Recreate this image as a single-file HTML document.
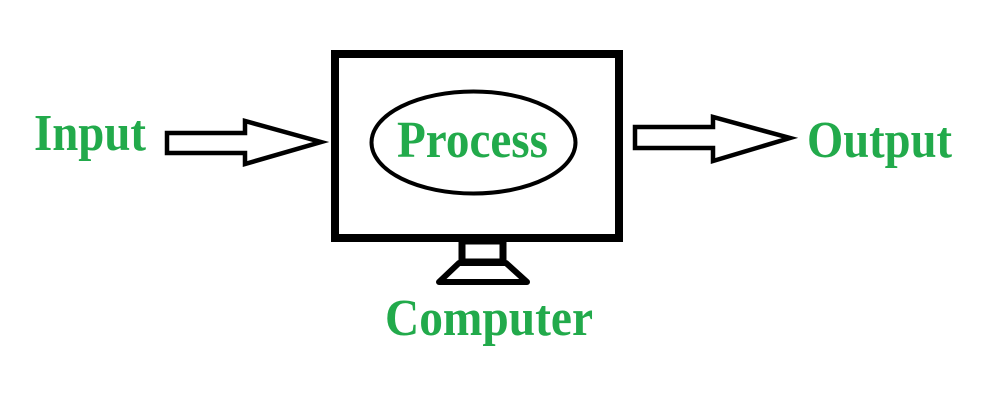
<!DOCTYPE html>
<html><head><style>html,body{margin:0;padding:0;background:#fff;width:1004px;height:406px;overflow:hidden}</style></head>
<body>
<svg width="1004" height="406" viewBox="0 0 1004 406" xmlns="http://www.w3.org/2000/svg">
<rect x="0" y="0" width="1004" height="406" fill="#fff"/>
<g fill="none" stroke="#000" stroke-linejoin="miter">
<rect x="335" y="54" width="284" height="184" stroke-width="8"/>
<ellipse cx="473.5" cy="142.5" rx="102" ry="51" stroke-width="4"/>
<rect x="462" y="241" width="41" height="21" stroke-width="7"/>
<polygon points="459,263 506,263 527,282 439,282" stroke-width="6" stroke-linejoin="round"/>
<polygon points="167,133 245,133 245,121 321,142 245,164 245,153 167,153" stroke-width="4.5"/>
<polygon points="635,127 713,127 713,117 790,138 713,161 713,148 635,148" stroke-width="4.5"/>
</g>
<g font-family="'Liberation Serif',serif" font-weight="bold" font-size="52" fill="#22aa4b">
<text x="34" y="150" textLength="112" lengthAdjust="spacingAndGlyphs">Input</text>
<text x="397" y="157" textLength="151" lengthAdjust="spacingAndGlyphs">Process</text>
<text x="807" y="157" textLength="145" lengthAdjust="spacingAndGlyphs">Output</text>
<text x="385" y="335" textLength="208" lengthAdjust="spacingAndGlyphs">Computer</text>
</g>
</svg>
</body></html>
